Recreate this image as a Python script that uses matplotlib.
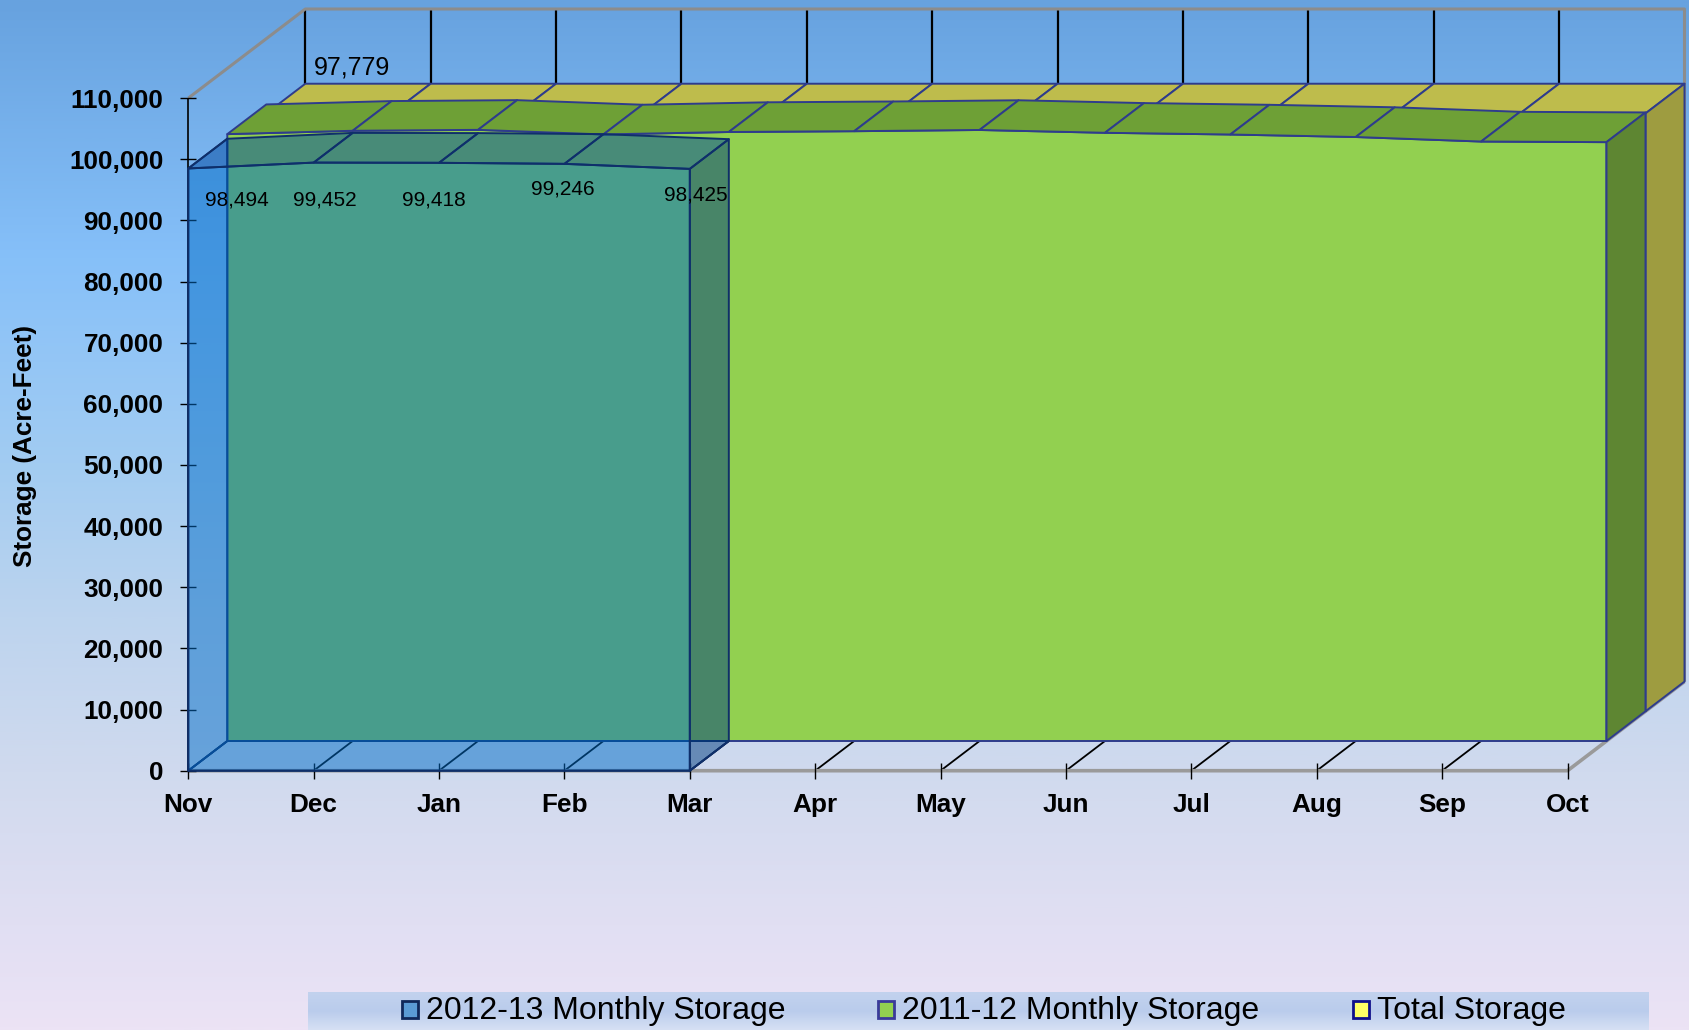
import matplotlib
matplotlib.use('Agg')
import matplotlib.pyplot as plt
import numpy as np
from matplotlib.patches import Polygon, Rectangle
from matplotlib.colors import LinearSegmentedColormap, to_rgba

plt.rcParams['font.family'] = ['Liberation Sans', 'DejaVu Sans']

months = ['Nov', 'Dec', 'Jan', 'Feb', 'Mar', 'Apr', 'May', 'Jun', 'Jul', 'Aug', 'Sep', 'Oct']
storage_1213 = [98494, 99452, 99418, 99246, 98425]
storage_1112 = [99250, 99800, 99950, 99200, 99600, 99730, 99930, 99470, 99190, 98780, 98040, 97940]
total_storage = [97779, 97779, 97779, 97779, 97779, 97779, 97779, 97779, 97779, 97779, 97779, 97779]
yticks = [0, 10000, 20000, 30000, 40000, 50000, 60000, 70000, 80000, 90000, 100000, 110000]
legend_labels = ['2012-13 Monthly Storage', '2011-12 Monthly Storage', 'Total Storage']

W, H = 1690, 1030
fig = plt.figure(figsize=(W / 100, H / 100), dpi=100)

# page background, blue at the top fading to lavender
bg = fig.add_axes([0, 0, 1, 1], zorder=-10)
bg_cmap = LinearSegmentedColormap.from_list('bg', [
    (0.0, '#67A2DF'), (0.25, '#86C0F9'), (0.45, '#A2CCF2'), (0.6, '#BDD4EE'),
    (0.75, '#D0DAEE'), (0.9, '#E1DFF3'), (1.0, '#ECE3F5')])
bg.imshow(np.linspace(0, 1, 512).reshape(-1, 1), aspect='auto', cmap=bg_cmap,
          extent=[0, 1, 0, 1])
bg.axis('off')

# front plane of the 3-d box
x0, x1 = 188.3, 1567.5
y0, y1 = 770.7, 98.1
ax = fig.add_axes([x0 / W, 1 - y0 / H, (x1 - x0) / W, (y0 - y1) / H])
ax.set_xlim(0, 11)
ax.set_ylim(0, 110000)
ax.patch.set_visible(False)
for s in ax.spines.values():
    s.set_visible(False)

# one step of depth in data units (39 px right, 29.7 px up)
DX = 39 / ((x1 - x0) / 11)
DY = 29.7 / ((y0 - y1) / 110000)


def proj(x, y, k):
    return (x + k * DX, y + k * DY)


def face(pts, fc, ec, z, lw=1.4):
    ax.add_patch(Polygon([proj(*p) for p in pts], closed=True, facecolor=fc,
                         edgecolor=ec, lw=lw, zorder=z, clip_on=False,
                         joinstyle='round'))


def line(pts, color, lw, z):
    xs, ys = zip(*[proj(*p) for p in pts])
    ax.plot(xs, ys, color=color, lw=lw, zorder=z, clip_on=False,
            solid_capstyle='butt')


def area3d(values, k, front, top, side, edge, z):
    n = len(values)
    pts = [(0, 0, k)] + [(i, v, k) for i, v in enumerate(values)] + [(n - 1, 0, k)]
    face(pts, front, edge, z)
    for i in range(n - 1):
        face([(i, values[i], k), (i + 1, values[i + 1], k),
              (i + 1, values[i + 1], k + 1), (i, values[i], k + 1)], top, edge, z)
    face([(n - 1, 0, k), (n - 1, values[-1], k),
          (n - 1, values[-1], k + 1), (n - 1, 0, k + 1)], side, edge, z)


# walls and floor
for i in range(11):
    line([(i, 0, 3), (i, 110000, 3)], 'black', 1.6, 1)
    line([(i, 0, 0), (i, 0, 3)], 'black', 1.3, 1)
line([(0, 110000, 0), (0, 110000, 3), (11, 110000, 3), (11, 0, 3)], '#8C8C8C', 2.2, 1)
line([(0, 0, 0), (11, 0, 0), (11, 0, 3)], '#9A9A9A', 2.6, 1)
line([(0, 0, 0), (0, 110000, 0)], 'black', 1.2, 1.5)

# series, back to front
area3d(total_storage, 2, '#FFFF66', '#BEBC4C', '#9E9C40', '#2E3C8C', 2)
area3d(storage_1112, 1, '#92D050', '#6EA036', '#5E8632', '#2E3C8C', 3)

nb = len(storage_1213)
face([(0, 0, 0), (nb - 1, 0, 0), (nb - 1, 0, 1), (0, 0, 1)], 'none', '#0F2F6A', 4)
face([(0, 0, 0), (0, storage_1213[0], 0), (0, storage_1213[0], 1), (0, 0, 1)],
     'none', '#0F2F6A', 4)
area3d(storage_1213, 0, to_rgba('#006CC8', 0.5), to_rgba('#0048A0', 0.5),
       to_rgba('#003C80', 0.5), '#0F2F6A', 4)

# data labels
lab_dx = [49, 11, -5, -2, 6]
lab_dy = [-32, -37, -37, -25, -26]
for i, v in enumerate(storage_1213):
    ax.annotate(f'{v:,}', (i, v), xytext=(lab_dx[i] * 0.72, lab_dy[i] * 0.72),
                textcoords='offset points', ha='center', va='center',
                fontsize=15, zorder=7, annotation_clip=False)
ax.annotate(f'{total_storage[0]:,}', proj(0, total_storage[0], 3),
            xytext=(47 * 0.72, 16 * 0.72), textcoords='offset points',
            ha='center', va='center', fontsize=18, zorder=7,
            annotation_clip=False)

# axes ticks and labels
ax.set_xticks(range(len(months)))
ax.set_xticklabels(months, fontsize=18.8, fontweight='bold')
ax.set_yticks(yticks)
ax.set_yticklabels([f'{t:,}' for t in yticks], fontsize=18.8, fontweight='bold')
ax.tick_params(axis='x', direction='inout', length=11, width=1, pad=10.5)
ax.tick_params(axis='y', direction='inout', length=12, width=1, pad=11.9)
fig.text(25 / W, 1 - 446 / H, 'Storage (Acre-Feet)', rotation=90, ha='center',
         va='center', fontsize=18.8, fontweight='bold')

# legend strip along the bottom
lg = fig.add_axes([308 / W, 0, (1649 - 308) / W, 38 / H], zorder=5)
lg_cmap = LinearSegmentedColormap.from_list('lg', ['#C2D2EE', '#BACCEC', '#D6E0F4'])
lg.imshow(np.linspace(0, 1, 64).reshape(-1, 1), aspect='auto', cmap=lg_cmap,
          extent=[0, 1, 0, 1])
lg.axis('off')

leg_colors = ['#5B9BD5', '#92D050', '#FFFF66']
leg_edges = ['#10285A', '#3A3A9A', '#10108A']
leg_x = [402, 878, 1353]
for lx, c, e, lab in zip(leg_x, leg_colors, leg_edges, legend_labels):
    fig.add_artist(Rectangle((lx / W, (H - 1018) / H), 16 / W, 17 / H,
                             transform=fig.transFigure, facecolor=c,
                             edgecolor=e, lw=2, zorder=6))
    fig.text((lx + 24) / W, (H - 1011) / H, lab, ha='left', va='center',
             fontsize=23, zorder=7)

fig.savefig('out.png', dpi=100)
